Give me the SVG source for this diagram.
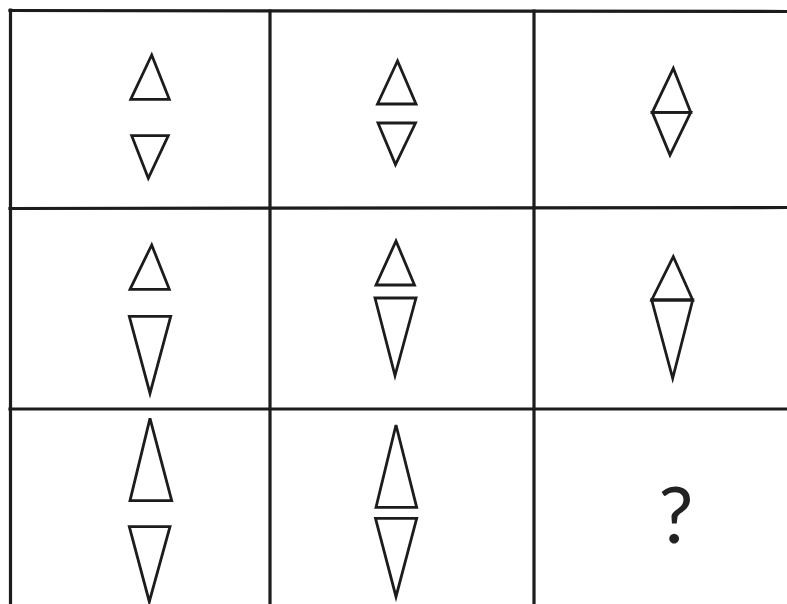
<svg xmlns="http://www.w3.org/2000/svg" width="787" height="604" viewBox="0 0 787 604">
<style>
.grid{stroke:#1c1c1c;stroke-width:3.2;fill:none;stroke-linecap:square}
.tri{stroke:#1c1c1c;stroke-width:2.8;fill:none;stroke-linejoin:miter}
.q{font-family:"Lato","Open Sans","DejaVu Sans",sans-serif;font-weight:400;font-size:78px;fill:#222;text-anchor:middle}
</style>
<rect width="787" height="604" fill="#fff"/>
<g id="connectors" class="grid">
<line x1="10" y1="10.5" x2="787" y2="11.5"/>
<line x1="10.5" y1="10" x2="10.5" y2="604"/>
<line x1="270" y1="11" x2="270" y2="604"/>
<line x1="534" y1="11" x2="534" y2="604"/>
<line x1="10" y1="208.5" x2="787" y2="207.5"/>
<line x1="10" y1="409" x2="787" y2="409"/>
</g>
<g id="cell-r1c1" class="tri">
<polygon points="151.7,55 130.7,99.3 169.3,99.3"/>
<polygon points="131.7,135.7 168.3,135.7 148.3,178.3"/>
</g>
<g id="cell-r1c2" class="tri">
<polygon points="397.5,61 377.5,104 416,104"/>
<polygon points="378,123 415.5,123 395.5,164.5"/>
</g>
<g id="cell-r1c3" class="tri">
<polygon points="673.3,68.3 652.3,112.3 690.7,112.3"/>
<polygon points="652.3,112.3 690.7,112.3 670,155"/>
</g>
<g id="cell-r2c1" class="tri">
<polygon points="151.7,245 130,289.3 169.3,289.3"/>
<polygon points="129.3,316.3 170.7,316.3 150,393.3"/>
</g>
<g id="cell-r2c2" class="tri">
<polygon points="396,241 376,285 414.5,285"/>
<polygon points="375,298 416,298 395,375.5"/>
</g>
<g id="cell-r2c3" class="tri">
<polygon points="673.3,256.7 651.7,300 692.7,300"/>
<polygon points="651.7,300 692.7,300 672.7,378.3"/>
</g>
<g id="cell-r3c1" class="tri">
<polygon points="150,418.3 130,500.7 171.7,500.7"/>
<polygon points="129.3,526.7 170,526.7 149.3,601.7"/>
</g>
<g id="cell-r3c2" class="tri">
<polygon points="396,425 376,507.3 416.7,507.3"/>
<polygon points="375.5,518.3 416.7,518.3 396,596.7"/>
</g>
<g id="cell-r3c3">
<text class="q" x="676" y="543">?</text>
</g>
</svg>
